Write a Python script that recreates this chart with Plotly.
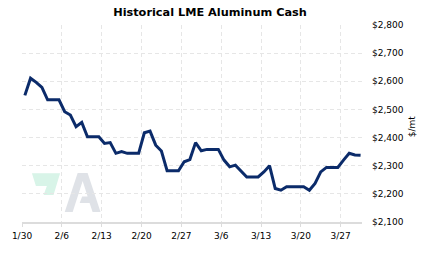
import pandas as pd
import plotly.graph_objects as go

# ---- data (daily, weekends carried from Friday) ----
dates = pd.date_range("2023-01-30", "2023-03-30", freq="D")
prices = [
    2550, 2611, 2596, 2578, 2534, 2534, 2534,   # 1/30 - 2/5
    2492, 2480, 2439, 2454, 2403, 2403, 2403,   # 2/6 - 2/12
    2379, 2382, 2344, 2350, 2344, 2344, 2344,   # 2/13 - 2/19
    2417, 2423, 2373, 2352, 2282, 2282, 2282,   # 2/20 - 2/26
    2314, 2322, 2382, 2353, 2358, 2358, 2358,   # 2/27 - 3/5
    2320, 2296, 2302, 2282, 2260, 2260, 2260,   # 3/6 - 3/12
    2278, 2300, 2219, 2213, 2225, 2225, 2225,   # 3/13 - 3/19
    2225, 2213, 2237, 2278, 2294, 2294, 2294,   # 3/20 - 3/26
    2320, 2344, 2338, 2337,                     # 3/27 - 3/30
]
tick_dates = ["2023-01-30", "2023-02-06", "2023-02-13", "2023-02-20", "2023-02-27",
              "2023-03-06", "2023-03-13", "2023-03-20", "2023-03-27"]
tick_labels = ["1/30", "2/6", "2/13", "2/20", "2/27", "3/6", "3/13", "3/20", "3/27"]
y_ticks = [2100, 2200, 2300, 2400, 2500, 2600, 2700, 2800]
y_labels = ["$2,100", "$2,200", "$2,300", "$2,400", "$2,500", "$2,600", "$2,700", "$2,800"]

W, H = 423, 257
ML, MR, MT, MB = 20, 61, 25, 35
PW, PH = W - ML - MR, H - MT - MB
FONT = "DejaVu Sans"


def pp(x, y):
    return f"{(x - ML) / PW:.4f},{(H - MB - y) / PH:.4f}"


fig = go.Figure()
fig.add_trace(go.Scatter(
    x=dates, y=prices, mode="lines",
    xperiod=86400000, xperiodalignment="middle",
    line=dict(color="#0b2b6a", width=3),
    hoverinfo="skip", showlegend=False,
))

# watermark logo
green = "M" + " L".join(pp(x, y) for x, y in
                        [(30, 173.3), (58.3, 173.3), (51.7, 195), (41.7, 195), (45, 186), (34, 186)]) + " Z"
grayA = "M" + " L".join(pp(x, y) for x, y in
                        [(63, 212), (76, 173), (86, 173), (99, 212), (91, 212), (88, 203),
                         (78, 203), (80.5, 196.5), (86, 196.5), (81, 181), (71, 212)]) + " Z"
fig.add_shape(type="path", path=green, xref="paper", yref="paper",
              fillcolor="#d8f4e8", line=dict(width=0), layer="below")
fig.add_shape(type="path", path=grayA, xref="paper", yref="paper",
              fillcolor="#dfe2e7", line=dict(width=0), layer="below")

fig.update_layout(
    width=W, height=H,
    margin=dict(l=ML, r=MR, t=MT, b=MB),
    paper_bgcolor="white", plot_bgcolor="white",
    font=dict(family=FONT, size=9, color="#000000"),
    title=dict(text="<b>Historical LME Aluminum Cash</b>",
               font=dict(family=FONT, size=11.3, color="#000000"),
               x=210 / W, xanchor="center", xref="container",
               y=1 - 12 / H, yanchor="middle", yref="container"),
    xaxis=dict(
        type="date",
        range=["2023-01-30", "2023-03-30 18:00"],
        tickvals=tick_dates, ticktext=tick_labels,
        showgrid=True, gridcolor="#e6e6e6", griddash="4px,3px", gridwidth=1,
        showline=True, linecolor="#dcdcdc", linewidth=2,
        ticks="outside", ticklen=3, tickcolor="#dcdcdc",
        ticklabelstandoff=1,
        zeroline=False, fixedrange=True,
    ),
    yaxis=dict(
        side="right",
        range=[2100, 2800],
        tickvals=y_ticks, ticktext=y_labels,
        showgrid=True, gridcolor="#e6e6e6", griddash="4px,3px", gridwidth=1,
        showline=False, ticks="", ticklabelstandoff=9,
        zeroline=False, fixedrange=True,
    ),
    annotations=[dict(
        text="$/mt", textangle=-90, showarrow=False,
        xref="paper", yref="paper",
        x=(413 - ML) / PW, y=(H - MB - 126.5) / PH,
        xanchor="center", yanchor="middle",
        font=dict(family=FONT, size=9, color="#000000"),
    )],
)

fig.write_html("out.html")
